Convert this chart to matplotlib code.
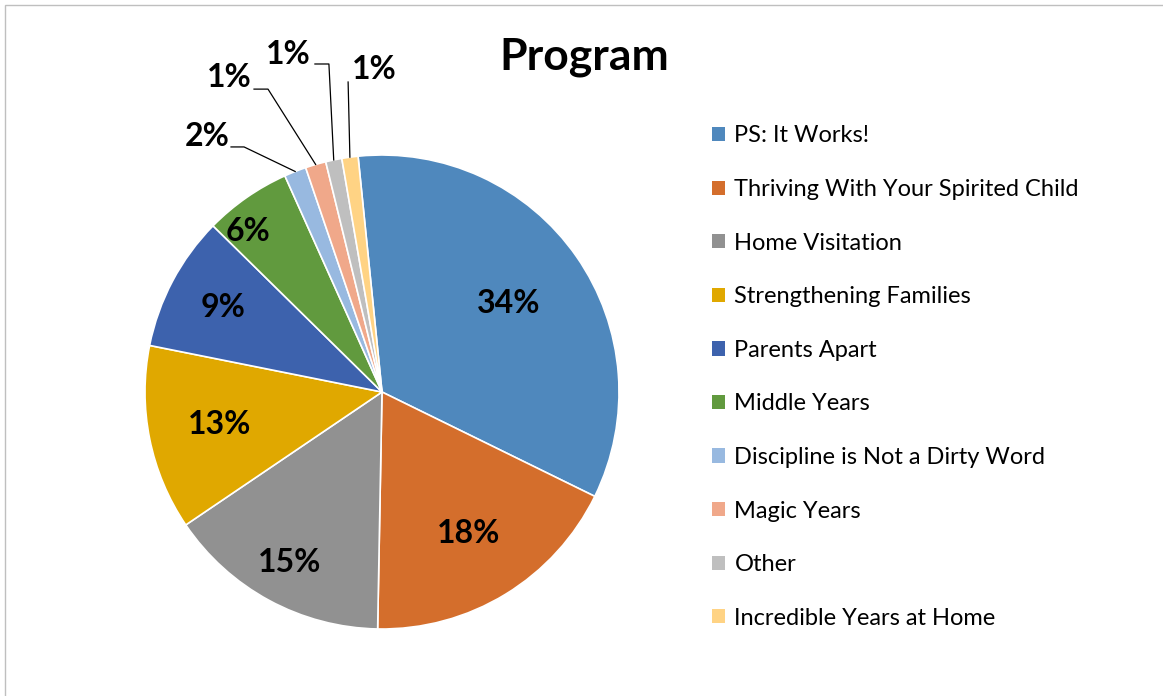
import numpy as np
import matplotlib.pyplot as plt
from matplotlib.patches import Rectangle

# Data (percent of participants)
programs = [
    "PS: It Works!",
    "Thriving With Your Spirited Child",
    "Home Visitation",
    "Strengthening Families",
    "Parents Apart",
    "Middle Years",
    "Discipline is Not a Dirty Word",
    "Magic Years",
    "Other",
    "Incredible Years at Home",
]
shares = [33.8, 18.0, 15.2, 12.6, 9.2, 5.9, 1.5, 1.4, 1.1, 1.1]
colors = ["#4F88BD", "#D46E2C", "#919191", "#E0A800", "#3D62AD",
          "#619A3E", "#98B9E0", "#F0A88A", "#BFBFBF", "#FFD384"]

# label layout (inside labels: distance from centre, outside: text/elbow spots)
inner_dist = [0.65, 0.70, 0.82, 0.70, 0.76, 0.88]
outer_text = [(-0.642, 1.08), (-0.549, 1.325), (-0.300, 1.422), (-0.127, 1.359)]
outer_elbow = [(-0.637, 1.034, -0.582, 1.034), (-0.540, 1.278, -0.481, 1.278),
               (-0.283, 1.384, -0.224, 1.384), (-0.143, 1.308, -0.143, 1.308)]

plt.rcParams['font.family'] = ['Lato', 'DejaVu Sans']

W, H = 1163, 696
fig = plt.figure(figsize=(W / 100, H / 100), dpi=100)

# chart frame
fig.patches.append(Rectangle((5 / W, -0.05), 1.2, 1 - 5 / H + 0.05,
                             transform=fig.transFigure, fill=False,
                             edgecolor="#BFBFBF", linewidth=1.0))

cx, cy, r = 382, 392, 237
ax = fig.add_axes([(cx - r) / W, (H - cy - r) / H, 2 * r / W, 2 * r / H])
wedges, _ = ax.pie(shares, colors=colors, startangle=95.8, counterclock=False,
                   radius=1, wedgeprops={"edgecolor": "white", "linewidth": 1.2})
ax.set_xlim(-1, 1)
ax.set_ylim(-1, 1)
ax.set_aspect("equal")
ax.axis("off")

total = sum(shares)
pct = [f"{v / total * 100:.0f}%" for v in shares]

for i, w in enumerate(wedges):
    mid = np.deg2rad((w.theta1 + w.theta2) / 2)
    if i < len(inner_dist):
        d = inner_dist[i]
        # Middle Years label sits a bit further round, as in the source chart
        if i == 5:
            mid += np.deg2rad(5)
        ax.text(d * np.cos(mid), d * np.sin(mid), pct[i], ha="center", va="center",
                fontsize=23, fontweight="bold", color="black")
    else:
        k = i - len(inner_dist)
        tx, ty = outer_text[k]
        x0, y0, x1, y1 = outer_elbow[k]
        ex, ey = np.cos(mid), np.sin(mid)
        ax.plot([x0, x1, ex], [y0, y1, ey], color="black", linewidth=0.9,
                clip_on=False)
        ha = "left" if k == 3 else "right"
        ax.text(tx, ty, pct[i], ha=ha, va="center", fontsize=23,
                fontweight="bold", color="black", clip_on=False)

fig.text(584 / W, 1 - 57 / H, "Program", ha="center", va="center",
         fontsize=32, fontweight="bold")

handles = [Rectangle((0, 0), 1, 1, facecolor=c, edgecolor="none") for c in colors]
fig.legend(handles, programs, loc="upper left",
           bbox_to_anchor=(703 / W, 1 - 116 / H), frameon=False,
           fontsize=17, handlelength=0.55, handleheight=0.55, handletextpad=0.38,
           labelspacing=1.38, borderaxespad=0)

fig.savefig("out.png", dpi=100)
